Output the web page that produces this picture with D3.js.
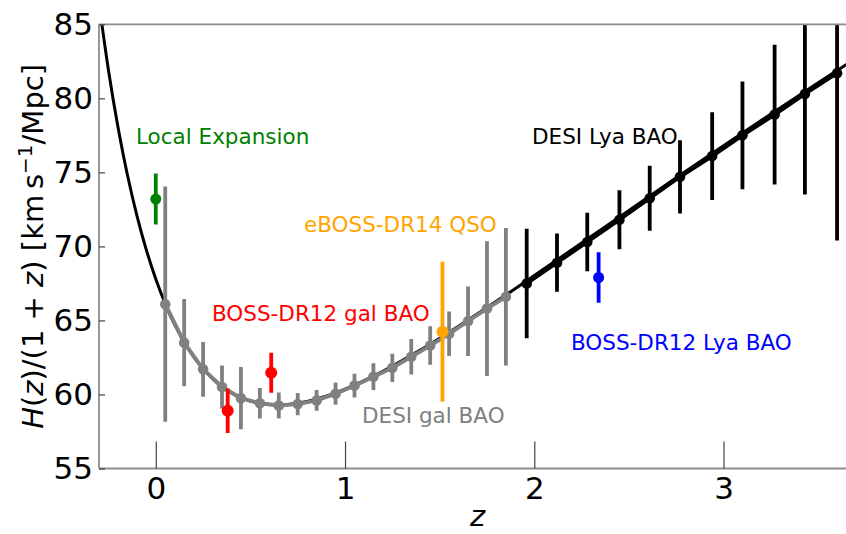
<!DOCTYPE html>
<html><head><meta charset="utf-8">
<script src="https://cdn.jsdelivr.net/npm/d3@7"></script>
<style>
html,body{margin:0;padding:0;background:#fff;}
svg{display:block;font-family:"DejaVu Sans",sans-serif;}
</style></head>
<body><svg id="c" width="846" height="534"></svg>
<script>
// ---- data ----
const modelZ = [-0.3,-0.25,-0.2,-0.15,-0.1,-0.05,0,0.05,0.1,0.2,0.3,0.4,0.5,0.6,0.7,0.8,0.9,1.0,1.2,1.4,1.6,1.8,2.0,2.25,2.5,2.75,3.0,3.25,3.5,3.7];
const modelH = [86.43,81.90,78.08,74.84,72.10,69.77,67.8,66.13,64.72,62.55,61.07,60.11,59.56,59.32,59.33,59.53,59.88,60.36,61.57,63.01,64.61,66.29,68.03,70.23,72.43,74.63,76.80,78.94,81.05,82.71];

const desiGalZ = [0.05,0.15,0.25,0.35,0.45,0.55,0.65,0.75,0.85,0.95,1.05,1.15,1.25,1.35,1.45,1.55,1.65,1.75,1.85];
const desiGalH = [66.1,63.5,61.7,60.5,59.75,59.4,59.25,59.35,59.6,60.05,60.6,61.2,61.8,62.55,63.3,64.1,64.95,65.8,66.6];
const desiGalErr = [7.95,2.95,1.85,1.45,2.1,1.03,0.88,0.75,0.7,0.75,0.8,0.9,0.95,1.2,1.3,1.5,2.35,4.55,4.65];

const desiLyaZ = [1.96,2.12,2.28,2.45,2.61,2.77,2.94,3.10,3.27,3.43,3.60];
const desiLyaH = [67.5,68.9,70.3,71.8,73.25,74.7,76.1,77.5,78.9,80.3,81.7];
const desiLyaErr = [3.7,1.97,1.97,2.0,2.2,2.47,2.96,3.64,4.72,6.8,11.3];

const localZ = [0.0],   localH = [73.2],  localErr = [1.72];
const bossGalZ = [0.38, 0.61], bossGalH = [58.9, 61.46], bossGalErr = [1.5, 1.35];
const ebossZ = [1.515], ebossH = [64.23], ebossErr = [4.73];
const bossLyaZ = [2.34], bossLyaH = [67.9], bossLyaErr = [1.7];

const xTicks = [0,1,2,3];
const yTicks = [55,60,65,70,75,80,85];

const annTexts = ["Local Expansion","eBOSS-DR14 QSO","BOSS-DR12 gal BAO","DESI gal BAO","DESI Lya BAO","BOSS-DR12 Lya BAO"];
</script>
<script>
const svg = d3.select("#c");
const X0 = 99, X1 = 856, Y0 = 24.3, Y1 = 468.5;
const x = d3.scaleLinear().domain([-0.3,3.7]).range([X0,X1]);
const y = d3.scaleLinear().domain([55,85]).range([Y1,Y0]);

svg.append("defs").append("clipPath").attr("id","clip")
  .append("rect").attr("x",X0).attr("y",Y0).attr("width",X1-X0).attr("height",Y1-Y0);

const plot = svg.append("g").attr("clip-path","url(#clip)");

// model curve
const mdl = modelZ.map((z,i)=>[z,modelH[i]]);
plot.append("path").datum(mdl)
  .attr("d", d3.line().x(d=>x(d[0])).y(d=>y(d[1])).curve(d3.curveCatmullRom))
  .attr("fill","none").attr("stroke","#000").attr("stroke-width",3);

function series(zs, hs, es, color, opts){
  const g = plot.append("g");
  const pts = zs.map((z,i)=>({z, h:hs[i], e:es[i]}));
  if (opts.line) {
    g.append("path").datum(pts)
      .attr("d", d3.line().x(d=>x(d.z)).y(d=>y(d.h)))
      .attr("fill","none").attr("stroke",color).attr("stroke-width",opts.lw||3.5);
  }
  g.selectAll("line.eb").data(pts).join("line")
    .attr("x1",d=>x(d.z)).attr("x2",d=>x(d.z))
    .attr("y1",d=>y(d.h+d.e)).attr("y2",d=>y(d.h-d.e))
    .attr("stroke",color).attr("stroke-width",opts.ew||3.8);
  g.selectAll("circle").data(pts).join("circle")
    .attr("cx",d=>x(d.z)).attr("cy",d=>y(d.h)).attr("r",opts.r||5.2)
    .attr("fill",color);
}
series(desiGalZ, desiGalH, desiGalErr, "#808080", {line:true, r:5.3, lw:4});
series(desiLyaZ, desiLyaH, desiLyaErr, "#000000", {line:true, r:5.3, lw:3.8});
series(localZ, localH, localErr, "#008000", {r:5.5});
series(bossGalZ, bossGalH, bossGalErr, "#ff0000", {r:6});
series(ebossZ, ebossH, ebossErr, "#ffa500", {r:6});
series(bossLyaZ, bossLyaH, bossLyaErr, "#0000ff", {r:5.5});

// spines
const sp = svg.append("g").attr("stroke","#8c8c8c").attr("stroke-width",1.8).attr("fill","none");
sp.append("line").attr("x1",X0).attr("x2",X0).attr("y1",Y0).attr("y2",Y1);
sp.append("line").attr("x1",X0).attr("x2",X1).attr("y1",Y0).attr("y2",Y0);
sp.append("line").attr("x1",X0).attr("x2",X1).attr("y1",Y1).attr("y2",Y1);
sp.append("line").attr("x1",X1).attr("x2",X1).attr("y1",Y0).attr("y2",Y1);

// axes
const ya = svg.append("g").attr("transform",`translate(${X0},0)`)
  .call(d3.axisLeft(y).tickValues(yTicks).tickSize(-6).tickPadding(6).tickFormat(d3.format("d")));
ya.select(".domain").remove();
ya.selectAll(".tick line").attr("stroke","#444").attr("stroke-width",1.2);
ya.selectAll(".tick text").attr("font-size","31px").attr("font-family","DejaVu Sans").attr("fill","#000");

const xa = svg.append("g").attr("transform",`translate(0,${Y1})`)
  .call(d3.axisBottom(x).tickValues(xTicks).tickSize(-27).tickPadding(8).tickFormat(d3.format("d")));
xa.select(".domain").remove();
xa.selectAll(".tick line").attr("stroke","#444").attr("stroke-width",1.2);
xa.selectAll(".tick text").attr("font-size","31px").attr("font-family","DejaVu Sans").attr("fill","#000");

// axis labels
svg.append("text").attr("x",(X0+X1)/2).attr("y",526).attr("text-anchor","middle")
  .attr("font-size","29px").attr("font-style","italic").text("z");

const yl = svg.append("text").attr("transform",`translate(43,${(Y0+Y1)/2}) rotate(-90)`)
  .attr("text-anchor","middle").attr("font-size","29px");
yl.append("tspan").attr("font-style","italic").text("H");
yl.append("tspan").text("(");
yl.append("tspan").attr("font-style","italic").text("z");
yl.append("tspan").text(")/(1 + ");
yl.append("tspan").attr("font-style","italic").text("z");
yl.append("tspan").text(") [km\u2009s");
yl.append("tspan").attr("font-size","20px").attr("dy",-11).text("\u22121");
yl.append("tspan").attr("dy",11).text("/Mpc]");

// annotations
const annPos = [[136,143.5,"#008000"],[304,231.5,"#ffa500"],[212,321,"#ff0000"],[362,422.5,"#808080"],[532,143.5,"#000000"],[571,350,"#0000ff"]];
svg.append("g").selectAll("text").data(annTexts).join("text")
  .attr("x",(d,i)=>annPos[i][0]).attr("y",(d,i)=>annPos[i][1]).attr("fill",(d,i)=>annPos[i][2])
  .attr("font-size","21.5px").text(d=>d);
</script>
</body></html>
